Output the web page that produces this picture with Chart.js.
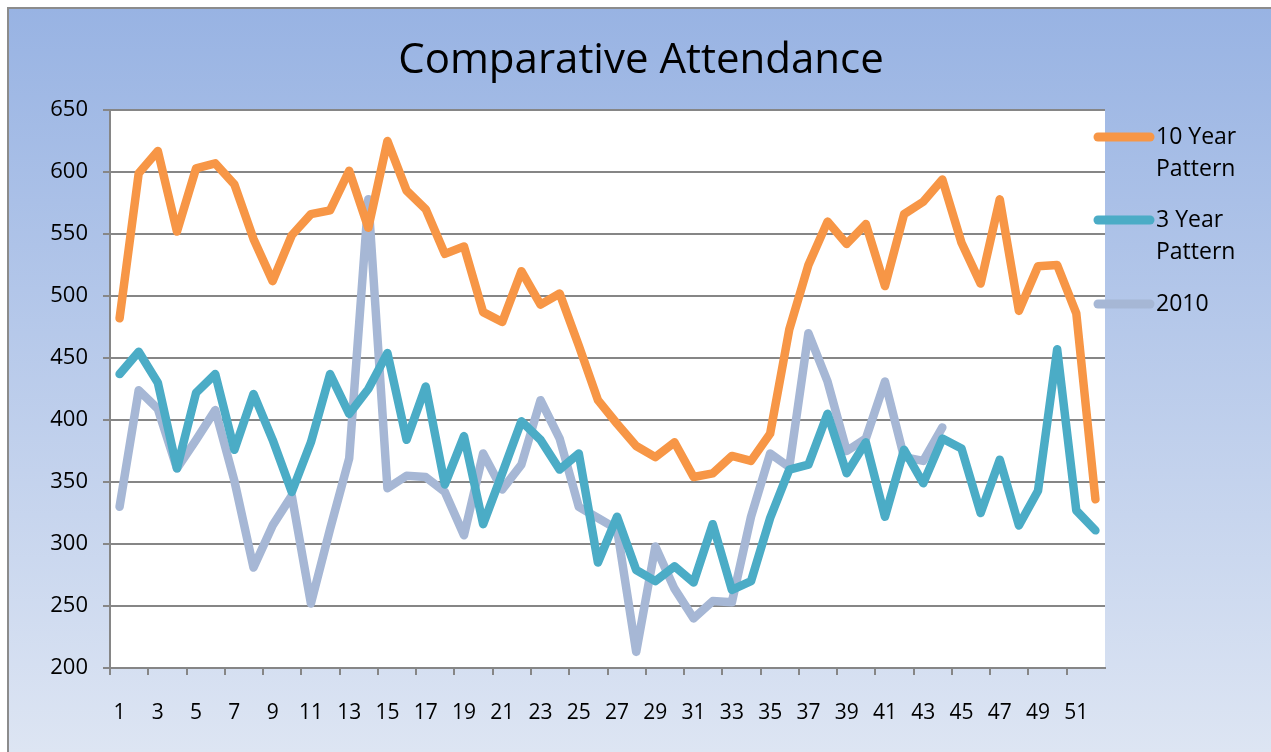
<!DOCTYPE html>
<html>
<head>
<meta charset="utf-8">
<title>Comparative Attendance</title>
<script src="https://cdn.jsdelivr.net/npm/chart.js@4.4.1/dist/chart.umd.min.js"></script>
<style>
    html, body { margin: 0; padding: 0; background: #ffffff; }
    #wrap { width: 1271px; height: 752px; position: relative; }
</style>
</head>
<body>
<div id="wrap"><canvas id="attendanceChart" width="1271" height="752"></canvas></div>
<script>
// week numbers 1..52
const weeks = ["1","2","3","4","5","6","7","8","9","10","11","12","13","14","15","16","17","18","19","20",
    "21","22","23","24","25","26","27","28","29","30","31","32","33","34","35","36","37","38","39","40",
    "41","42","43","44","45","46","47","48","49","50","51","52"];

const tenYearPattern = [482, 599, 617, 552, 603, 607, 590, 546, 512, 549, 566, 569, 601, 555, 625, 585, 570, 534,
    540, 487, 479, 520, 493, 502, 460, 416, 397, 379, 370, 382, 354, 357, 371, 367, 389, 473, 525, 560, 542, 558,
    508, 566, 576, 594, 543, 510, 578, 488, 524, 525, 486, 336];

const threeYearPattern = [437, 455, 430, 361, 422, 437, 376, 421, 384, 342, 382, 437, 405, 425, 454, 384, 427, 348,
    387, 316, 357, 399, 384, 360, 373, 285, 322, 279, 270, 282, 269, 316, 263, 270, 321, 360, 364, 405, 357, 382,
    322, 376, 349, 385, 377, 325, 368, 315, 343, 457, 327, 311];

// 2010 only runs to week 44
const year2010 = [330, 424, 409, 361, 384, 408, 351, 281, 315, 339, 252, 312, 369, 578, 345, 355, 354, 342,
    307, 373, 344, 364, 416, 385, 330, 321, 312, 213, 298, 264, 240, 254, 253, 322, 373, 362, 470, 431, 375, 385,
    431, 370, 367, 394, null, null, null, null, null, null, null, null];

const seriesNames = [["10 Year", "Pattern"], ["3 Year", "Pattern"], ["2010"]];
const seriesColors = ["#F79646", "#4BACC6", "#A6B7D5"];

const FONT = "'Open Sans', 'Noto Sans', sans-serif";

// background, frame, white plot area, title and the side legend
const framePlugin = {
    id: "frame",
    beforeDraw(chart) {
        const ctx = chart.ctx;
        const area = chart.chartArea;
        ctx.save();
        ctx.fillStyle = "#ffffff";
        ctx.fillRect(0, 0, chart.width, chart.height);
        const grad = ctx.createLinearGradient(0, 8, 0, chart.height);
        grad.addColorStop(0, "#98B3E3");
        grad.addColorStop(1, "#DDE5F3");
        ctx.fillStyle = grad;
        ctx.fillRect(8, 8, chart.width - 8, chart.height - 8);
        ctx.strokeStyle = "#8C8C8C";
        ctx.lineWidth = 2;
        ctx.beginPath();
        ctx.moveTo(8, chart.height);
        ctx.lineTo(8, 8);
        ctx.lineTo(chart.width, 8);
        ctx.stroke();
        ctx.fillStyle = "#ffffff";
        ctx.fillRect(area.left, area.top, area.right - area.left, area.bottom - area.top);
        ctx.restore();
    },
    afterDraw(chart) {
        const ctx = chart.ctx;
        ctx.save();
        ctx.fillStyle = "#000000";
        ctx.textAlign = "center";
        ctx.textBaseline = "middle";
        ctx.font = "42px " + FONT;
        ctx.fillText("Comparative Attendance", 641, 61);

        // legend: thick line swatch + wrapped label
        const rows = [137, 220, 304];
        ctx.font = "23px " + FONT;
        ctx.textAlign = "left";
        rows.forEach((y, i) => {
            ctx.strokeStyle = seriesColors[i];
            ctx.lineWidth = 9;
            ctx.lineCap = "round";
            ctx.beginPath();
            ctx.moveTo(1098, y);
            ctx.lineTo(1150, y);
            ctx.stroke();
            seriesNames[i].forEach((line, k) => {
                ctx.fillText(line, 1156, y + k * 32);
            });
        });
        ctx.restore();
    }
};

function makeDataset(label, data, color) {
    return {
        label: label,
        data: data,
        borderColor: color,
        backgroundColor: color,
        borderWidth: 8.5,
        pointRadius: 0,
        pointHoverRadius: 0,
        tension: 0,
        spanGaps: false,
        borderCapStyle: "round",
        borderJoinStyle: "round"
    };
}

const ctx = document.getElementById("attendanceChart").getContext("2d");
const chart = new Chart(ctx, {
    type: "line",
    data: {
        labels: weeks,
        datasets: [
            makeDataset("10 Year Pattern", tenYearPattern, seriesColors[0]),
            makeDataset("3 Year Pattern", threeYearPattern, seriesColors[1]),
            makeDataset("2010", year2010, seriesColors[2])
        ]
    },
    options: {
        responsive: false,
        animation: false,
        layout: { padding: { top: 110, right: 166, left: 0, bottom: 0 } },
        plugins: {
            legend: { display: false },
            title: { display: false },
            tooltip: { enabled: false }
        },
        scales: {
            x: {
                type: "category",
                offset: true,
                grid: {
                    offset: true,
                    drawOnChartArea: false,
                    tickLength: 7,
                    lineWidth: 2,
                    color: (c) => (c.index % 2 === 0 ? "#868686" : "rgba(0,0,0,0)")
                },
                border: { color: "#868686", width: 2 },
                ticks: {
                    autoSkip: false,
                    maxRotation: 0,
                    padding: 25,
                    color: "#000000",
                    font: { family: FONT, size: 21 },
                    callback: function (value, index) {
                        return index % 2 === 0 ? this.getLabelForValue(value) : "";
                    }
                },
                afterFit(scale) { scale.height = 84; }
            },
            y: {
                min: 200,
                max: 650,
                grid: {
                    color: "#868686",
                    lineWidth: 2,
                    tickLength: 7
                },
                border: { color: "#868686", width: 2 },
                ticks: {
                    stepSize: 50,
                    padding: 15,
                    color: "#000000",
                    font: { family: FONT, size: 22 }
                },
                afterFit(scale) { scale.width = 110; }
            }
        }
    },
    plugins: [framePlugin]
});
</script>
</body>
</html>
